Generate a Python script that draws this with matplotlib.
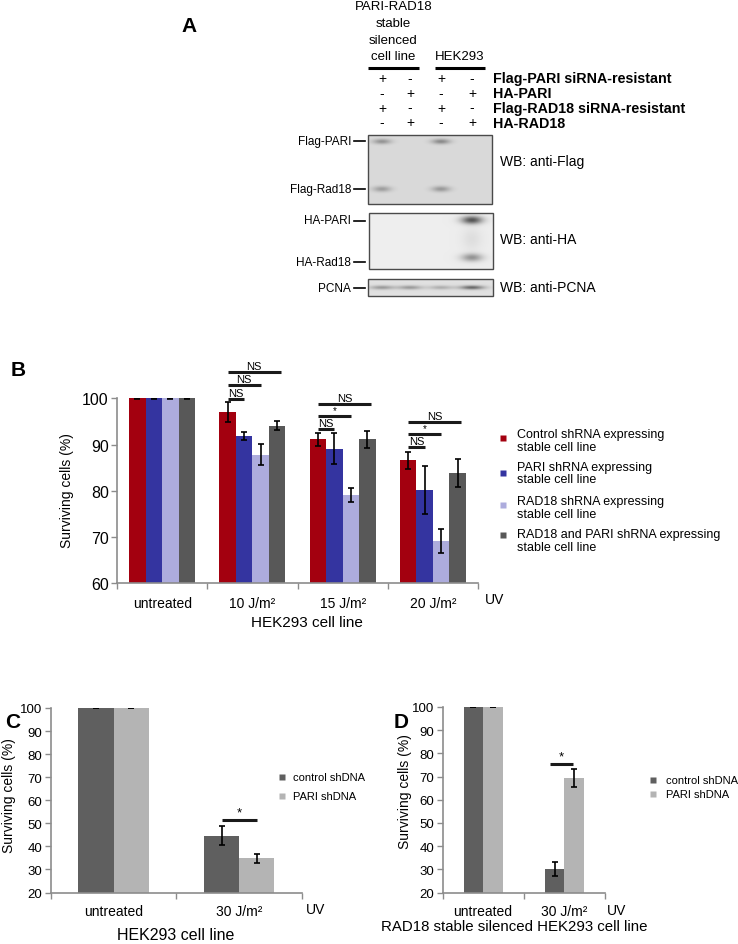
import numpy as np
import matplotlib
matplotlib.use('Agg')
import matplotlib.pyplot as plt
from matplotlib.patches import Rectangle

plt.rcParams['font.family'] = ['Liberation Sans', 'DejaVu Sans']

W, H = 738, 945
fig = plt.figure(figsize=(W / 100, H / 100), dpi=100)

# ---------------- data ----------------
# Panel A (western blot)
a_row_labels = ['Flag-PARI siRNA-resistant', 'HA-PARI', 'Flag-RAD18 siRNA-resistant', 'HA-RAD18']
a_flag_pari_sirna = ['+', '-', '+', '-']
a_ha_pari = ['-', '+', '-', '+']
a_flag_rad18_sirna = ['+', '-', '+', '-']
a_ha_rad18 = ['-', '+', '-', '+']
a_band_flag_pari = [0.28, 0.0, 0.32, 0.0]
a_band_flag_rad18 = [0.24, 0.0, 0.26, 0.0]
a_band_ha_pari = [0.0, 0.0, 0.0, 0.6]
a_band_ha_smear = [0.0, 0.0, 0.0, 0.06]
a_band_ha_rad18 = [0.0, 0.0, 0.0, 0.35]
a_band_pcna = [0.28, 0.28, 0.2, 0.48]

# Panel B
b_categories = ['untreated', '10 J/m²', '15 J/m²', '20 J/m²']
b_series = ['Control shRNA expressing\nstable cell line',
            'PARI shRNA expressing\nstable cell line',
            'RAD18 shRNA expressing\nstable cell line',
            'RAD18 and PARI shRNA expressing\nstable cell line']
b_control = [100, 97.0, 91.1, 86.6]
b_control_err = [0.1, 2.2, 1.4, 1.85]
b_pari = [100, 91.8, 89.1, 80.1]
b_pari_err = [0.1, 0.9, 3.4, 5.2]
b_rad18 = [100, 87.8, 79.1, 69.1]
b_rad18_err = [0.1, 2.3, 1.6, 2.6]
b_both = [100, 94.1, 91.1, 83.8]
b_both_err = [0.1, 0.9, 1.8, 3.0]
b_sig_group = [1, 1, 1, 2, 2, 2, 3, 3, 3]
b_sig_target = [3, 2, 1, 3, 2, 1, 3, 2, 1]
b_sig_label = ['NS', 'NS', 'NS', 'NS', '*', 'NS', 'NS', '*', 'NS']
b_sig_height = [105.6, 102.8, 99.9, 98.8, 96.2, 93.4, 94.8, 92.2, 89.4]

# Panel C
c_categories = ['untreated', '30 J/m²']
c_series = ['control shDNA', 'PARI shDNA']
c_control = [100, 44.7]
c_control_err = [0.2, 4.0]
c_pari = [100, 34.8]
c_pari_err = [0.2, 1.9]
c_sig_height = 51.6

# Panel D
d_categories = ['untreated', '30 J/m²']
d_series = ['control shDNA', 'PARI shDNA']
d_control = [100, 30.2]
d_control_err = [0.2, 3.0]
d_pari = [100, 69.4]
d_pari_err = [0.2, 3.9]
d_sig_height = 75.5

# ---------------- helpers ----------------
SPINE = '#8c8c8c'


def px_ax(x0, y0, x1, y1):
    return fig.add_axes([x0 / W, 1 - y1 / H, (x1 - x0) / W, (y1 - y0) / H])


def style_axes(ax, ylim, yticks, ncat, ylab_size):
    ax.set_facecolor('none')
    ax.set_ylim(*ylim)
    ax.set_xlim(-0.5, ncat - 0.5)
    ax.set_yticks(yticks)
    for s in ['top', 'right']:
        ax.spines[s].set_visible(False)
    for s in ['left', 'bottom']:
        ax.spines[s].set_color(SPINE)
        ax.spines[s].set_linewidth(1.2)
    ax.tick_params(axis='y', direction='out', length=4, width=1, color=SPINE,
                   labelsize=ylab_size, pad=2)
    ax.set_xticks(np.arange(-0.5, ncat, 1.0), minor=True)
    ax.tick_params(axis='x', which='minor', direction='out', length=4, width=1, color=SPINE)
    ax.tick_params(axis='x', which='major', length=0, labelsize=10, pad=9)


ekw = dict(ecolor='black', elinewidth=1.2, capsize=2.5, capthick=1.2)

# ---------------- Panel B ----------------
axB = px_ax(117, 399.3, 478, 584.3)
b_colors = ['#a3000f', '#3434a0', '#adacdd', '#585858']
bw = 0.183
xb = np.arange(len(b_categories))
for i, (vals, errs, col) in enumerate(zip([b_control, b_pari, b_rad18, b_both],
                                          [b_control_err, b_pari_err, b_rad18_err, b_both_err],
                                          b_colors)):
    axB.bar(xb + (i - 1.5) * bw, vals, bw, color=col, yerr=errs, error_kw=ekw, zorder=2)
style_axes(axB, (60, 100), [60, 70, 80, 90, 100], 4, 11.5)
axB.set_xticks(xb)
axB.set_xticklabels(b_categories)
for g, t, lab, h in zip(b_sig_group, b_sig_target, b_sig_label, b_sig_height):
    xs = g + (0 - 1.5) * bw
    xe = g + (t - 1.5) * bw + (0.04 if t == 3 else 0)
    axB.plot([xs, xe], [h, h], color='#1a1a1a', lw=2.2, clip_on=False, solid_capstyle='butt', zorder=3)
    axB.text((xs + xe) / 2, h + 0.25, lab, ha='center', va='bottom',
             fontsize=8 if lab == 'NS' else 7, clip_on=False)

# ---------------- Panel C ----------------
cw = 0.28
c_colors = ['#5f5f5f', '#b4b4b4']
axC = px_ax(50.7, 709, 302, 893.5)
xc = np.arange(len(c_categories))
for i, (vals, errs, col) in enumerate(zip([c_control, c_pari], [c_control_err, c_pari_err], c_colors)):
    axC.bar(xc + (i - 0.5) * cw, vals, cw, color=col, yerr=errs, error_kw=ekw, zorder=2)
style_axes(axC, (20, 100), np.arange(20, 101, 10), 2, 9.5)
axC.set_xticks(xc)
axC.set_xticklabels(c_categories)
axC.tick_params(axis='x', which='major', pad=8)
axC.plot([1 - 0.5 * cw, 1 + 0.5 * cw], [c_sig_height, c_sig_height], color='#1a1a1a', lw=2.2,
         solid_capstyle='butt', zorder=3)
axC.text(1, c_sig_height + 0.6, '*', ha='center', va='bottom', fontsize=9.5)

# ---------------- Panel D ----------------
dw = 0.24
axD = px_ax(442.5, 708, 605, 893.5)
xd = np.arange(len(d_categories))
for i, (vals, errs, col) in enumerate(zip([d_control, d_pari], [d_control_err, d_pari_err], c_colors)):
    axD.bar(xd + (i - 0.5) * dw, vals, dw, color=col, yerr=errs, error_kw=ekw, zorder=2)
style_axes(axD, (20, 100), np.arange(20, 101, 10), 2, 9.5)
axD.set_xticks(xd)
axD.set_xticklabels(d_categories)
axD.tick_params(axis='x', which='major', pad=8)
axD.plot([1 - 0.5 * dw - 0.06, 1 + 0.5 * dw - 0.02], [d_sig_height, d_sig_height], color='#1a1a1a',
         lw=2.2, solid_capstyle='butt', zorder=3)
axD.text(1 - 0.04, d_sig_height + 0.6, '*', ha='center', va='bottom', fontsize=9.5)

# ---------------- overlay (pixel coordinates) ----------------
ov = fig.add_axes([0, 0, 1, 1])
ov.patch.set_alpha(0)
ov.axis('off')

# panel letters
for lx, ly, letter in [(189, 27, 'A'), (18, 370, 'B'), (13, 722, 'C'), (401, 722, 'D')]:
    ov.text(lx, ly, letter, fontsize=15, fontweight='bold', ha='center', va='center')

# Panel A header
lane_x = [382, 410, 441, 472]
for yy, s in zip([7.5, 24, 40.5, 57], ['PARI-RAD18', 'stable', 'silenced', 'cell line']):
    ov.text(393.5, yy, s, fontsize=9.5, ha='center', va='center')
ov.text(460, 57, 'HEK293', fontsize=9.5, ha='center', va='center')
ov.plot([368, 419], [68.5, 68.5], color='black', lw=2.2, solid_capstyle='butt')
ov.plot([435, 485], [68.5, 68.5], color='black', lw=2.2, solid_capstyle='butt')
for yy, signs, lab in zip([79, 94, 108.5, 123],
                          [a_flag_pari_sirna, a_ha_pari, a_flag_rad18_sirna, a_ha_rad18],
                          a_row_labels):
    for lx, s in zip(lane_x, signs):
        ov.text(lx, yy, s, fontsize=10, ha='center', va='center')
    ov.text(493, yy + 0.5, lab, fontsize=10.3, fontweight='bold', ha='left', va='center')


def blot(x0, y0, x1, y1, bg, bands):
    xs = np.arange(x0, x1, 0.5) + 0.25
    ys = np.arange(y0, y1, 0.5) + 0.25
    X, Y = np.meshgrid(xs, ys)
    img = np.full(X.shape, bg)
    for yc, sy, sx, intens in bands:
        for lx, a in zip(lane_x, intens):
            img = img - a * np.exp(-0.5 * ((X - lx) / sx) ** 2 - 0.5 * ((Y - yc) / sy) ** 2)
    ov.imshow(np.clip(img, 0, 1), extent=(x0, x1, y1, y0), cmap='gray', vmin=0, vmax=1,
              interpolation='bilinear', aspect='auto', zorder=1)
    ov.add_patch(Rectangle((x0, y0), x1 - x0, y1 - y0, fill=False, ec='#4a4a4a', lw=1.0, zorder=2))


blot(368, 136, 492, 205, 0.855, [(142.5, 1.8, 6.5, a_band_flag_pari), (190, 2.0, 6.5, a_band_flag_rad18)])
blot(369, 214, 493, 270, 0.93, [(221, 2.8, 7.5, a_band_ha_pari), (240, 8, 7, a_band_ha_smear),
                                 (258.5, 2.8, 7.5, a_band_ha_rad18)])
blot(368, 279.5, 493, 296.5, 0.88, [(288, 1.4, 8.5, a_band_pcna)])

for yy, s in zip([142, 189.5, 221.5, 262.5, 289], ['Flag-PARI', 'Flag-Rad18', 'HA-PARI', 'HA-Rad18', 'PCNA']):
    ov.text(351, yy, s, fontsize=8.5, ha='right', va='center')
    ov.plot([354, 365], [yy, yy], color='black', lw=1.2)
for yy, s in zip([162, 239.5, 288.5], ['WB: anti-Flag', 'WB: anti-HA', 'WB: anti-PCNA']):
    ov.text(500.5, yy, s, fontsize=10, ha='left', va='center')

# Panel B extra text and legend
ov.text(67, 491, 'Surviving cells (%)', fontsize=10, rotation=90, ha='center', va='center')
ov.text(485, 600, 'UV', fontsize=10, ha='left', va='center')
ov.text(307, 623, 'HEK293 cell line', fontsize=11, ha='center', va='center')
for my, ty, col, lab in zip([439, 474, 506, 536], [441.5, 474, 508.5, 541.5], b_colors, b_series):
    ov.plot(503, my, 's', ms=5, color=col, mec='none')
    ov.text(517, ty, lab, fontsize=9, ha='left', va='center', linespacing=1.05)

# Panel C extra text and legend
ov.text(9, 796, 'Surviving cells (%)', fontsize=10, rotation=90, ha='center', va='center')
ov.text(306, 910, 'UV', fontsize=10, ha='left', va='center')
ov.text(176, 935, 'HEK293 cell line', fontsize=11.5, ha='center', va='center')
for my, col, lab in zip([778, 797], c_colors, c_series):
    ov.plot(282, my, 's', ms=4, color=col, mec='none')
    ov.text(293, my, lab, fontsize=8, ha='left', va='center')

# Panel D extra text and legend
ov.text(405, 792, 'Surviving cells (%)', fontsize=10, rotation=90, ha='center', va='center')
ov.text(607, 911, 'UV', fontsize=10, ha='left', va='center')
ov.text(514, 927, 'RAD18 stable silenced HEK293 cell line', fontsize=10.8, ha='center', va='center')
for my, col, lab in zip([781, 795], c_colors, d_series):
    ov.plot(653, my, 's', ms=4, color=col, mec='none')
    ov.text(666, my, lab, fontsize=8, ha='left', va='center')

ov.set_xlim(0, W)
ov.set_ylim(H, 0)

fig.savefig('out.png', dpi=100)
